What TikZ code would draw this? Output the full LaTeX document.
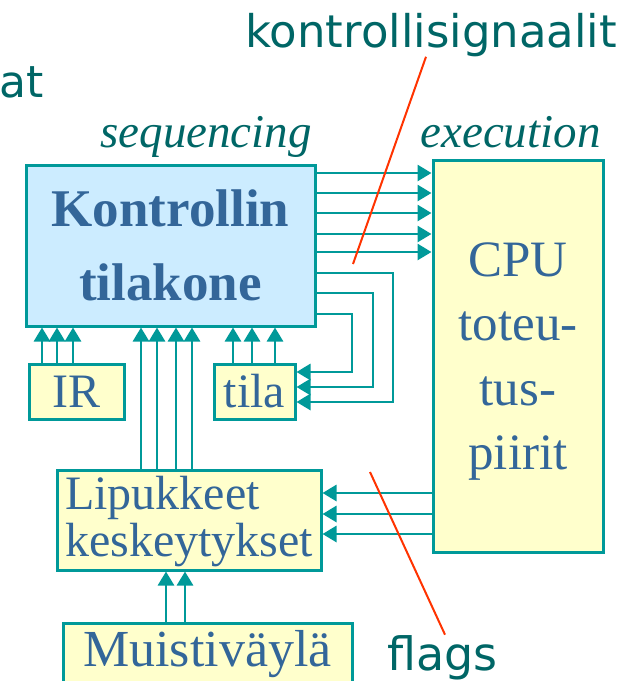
\documentclass[tikz,border=0pt]{standalone}
\usepackage{fontspec}
\setmainfont{Liberation Serif}
\newfontfamily\labelsans{DejaVu Sans}
\usetikzlibrary{arrows.meta}
\definecolor{wire}{HTML}{009999}
\definecolor{boxblue}{HTML}{CCECFF}
\definecolor{boxyellow}{HTML}{FFFFCC}
\definecolor{boxtext}{HTML}{336699}
\definecolor{labelteal}{HTML}{006666}
\definecolor{pointred}{HTML}{FF3300}
\begin{document}
\begin{tikzpicture}
    [x = 0.5pt, y = -0.5pt,
    box/.style = {draw = wire, line width = 1.5pt, text = boxtext, inner sep = 2pt},
    sig/.style = {draw = wire, line width = 1.4pt,
                  -{Triangle[length = 7pt 0 0, width = 8pt 0 0]}},
    labeltxt/.style = {text = labelteal, inner sep = 0pt},
    phase/.style = {text = labelteal, inner sep = 0pt,
                    font = \itshape\fontsize{23.5pt}{23.5pt}\selectfont},
    pointer/.style = {draw = pointred, line width = 1pt}]
    \clip (0,0) rectangle (626,681);
    \node[box, fill = boxblue, minimum width = 144.5pt, minimum height = 80.5pt,
          align = center, text depth = 0pt,
          font = \bfseries\fontsize{26.5pt}{37pt}\selectfont]
          (kone) at (170.5,245.5) {Kontrollin\\tilakone};
    \node[box, fill = boxyellow, minimum width = 85pt, minimum height = 196pt,
          align = center, text depth = 0pt,
          font = \fontsize{25.5pt}{32.2pt}\selectfont]
          (cpu) at (518,356) {CPU\\toteu-\\tus-\\piirit};
    \node[box, fill = boxyellow, minimum width = 47.5pt, minimum height = 27.5pt,
          font = \fontsize{24pt}{24pt}\selectfont] (ir) at (76.5,391.5) {IR};
    \node[box, fill = boxyellow, minimum width = 40.5pt, minimum height = 27.5pt,
          font = \fontsize{24pt}{24pt}\selectfont] (tila) at (254.5,391.5) {tila};
    \node[box, fill = boxyellow, minimum width = 132pt, minimum height = 50pt,
          align = left, text depth = 3.75pt,
          font = \fontsize{24pt}{23.5pt}\selectfont]
          (lipu) at (189,520) {Lipukkeet\\keskeytykset};
    \node[box, fill = boxyellow, minimum width = 144.5pt, minimum height = 31pt,
          font = \fontsize{26pt}{26pt}\selectfont]
          (muisti) at (207.5,654) {Muistiväylä};
    \node[labeltxt, anchor = base east, font = \labelsans\fontsize{22pt}{22pt}\selectfont]
          (titlefrag) at (44,97) {at};
    \node[labeltxt, anchor = base west, font = \labelsans\fontsize{22.5pt}{22.5pt}\selectfont]
          (signals) at (245,47) {kontrollisignaalit};
    \node[labeltxt, anchor = base west, font = \labelsans\fontsize{23pt}{23pt}\selectfont]
          (flags) at (387,670) {flags};
    \node[phase, anchor = base west] (seq) at (100,147) {sequencing};
    \node[phase, anchor = base west] (exec) at (420,147) {execution};
    \foreach \y in {173,193,213,234,252}
        \draw[sig] (kone.east |- 0,\y) -- (cpu.west |- 0,\y);
    \foreach \y/\x/\z in {273/393/402, 293/373/387, 314/352/372}
        \draw[sig] (kone.east |- 0,\y) -| (\x,\z) -- (tila.east |- 0,\z);
    \foreach \x in {42,57,73}
        \draw[sig] (ir.north -| \x,0) -- (kone.south -| \x,0);
    \foreach \x in {233,252,275}
        \draw[sig] (tila.north -| \x,0) -- (kone.south -| \x,0);
    \foreach \x in {141,157,176,192}
        \draw[sig] (lipu.north -| \x,0) -- (kone.south -| \x,0);
    \foreach \y in {493,514,534}
        \draw[sig] (cpu.west |- 0,\y) -- (lipu.east |- 0,\y);
    \foreach \x in {166,185}
        \draw[sig] (muisti.north -| \x,0) -- (lipu.south -| \x,0);
    \coordinate (sigend) at (353,264);
    \coordinate (flagend) at (370,472);
    \draw[pointer] (signals.south -| 426,0) -- (sigend);
    \draw[pointer] (flagend) -- (flags.north -| 445,0);
\end{tikzpicture}
\end{document}
